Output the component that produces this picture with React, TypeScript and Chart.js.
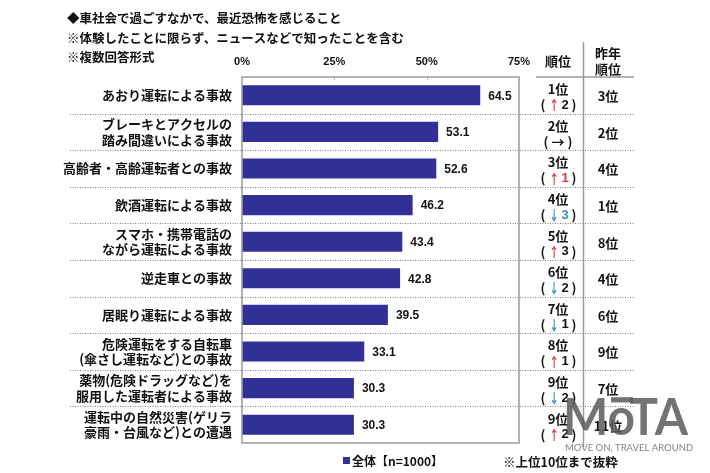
import React, { useEffect, useRef } from 'react';
import { Chart, registerables } from 'chart.js';

Chart.register(...registerables);

const titleLines = [
  '◆車社会で過ごすなかで、最近恐怖を感じること',
  '※体験したことに限らず、ニュースなどで知ったことを含む',
  '※複数回答形式',
];

const categories = [
  ['あおり運転による事故'],
  ['ブレーキとアクセルの', '踏み間違いによる事故'],
  ['高齢者・高齢運転者との事故'],
  ['飲酒運転による事故'],
  ['スマホ・携帯電話の', 'ながら運転による事故'],
  ['逆走車との事故'],
  ['居眠り運転による事故'],
  ['危険運転をする自転車', '(傘さし運転など)との事故'],
  ['薬物(危険ドラッグなど)を', '服用した運転者による事故'],
  ['運転中の自然災害(ゲリラ', '豪雨・台風など)との遭遇'],
];

const values = [64.5, 53.1, 52.6, 46.2, 43.4, 42.8, 39.5, 33.1, 30.3, 30.3];

const ranks = ['1位', '2位', '3位', '4位', '5位', '6位', '7位', '8位', '9位', '9位'];
const changeDir = ['up', 'flat', 'up', 'down', 'up', 'down', 'down', 'up', 'down', 'up'];
const changeAmt = ['2', '', '1', '3', '3', '2', '1', '1', '2', '2'];
const changeNumColored = [false, false, true, true, false, false, false, false, false, false];
const prevRanks = ['3位', '2位', '4位', '1位', '8位', '4位', '6位', '9位', '7位', '11位'];

const xTickValues = [0, 25, 50, 75];
const legendLabel = '全体【n=1000】';
const footnote = '※上位10位まで抜粋';
const rankHeader = '順位';
const prevHeader = ['昨年', '順位'];

const JP = '"Noto Sans CJK JP", "Noto Sans", sans-serif';
const NUM = '"Liberation Sans", Arial, sans-serif';
const BAR = '#303096';
const TEXT = '#111111';
const RED = '#d8343c';
const BLUE = '#3b8cc2';

export default function App() {
  const ref = useRef<HTMLCanvasElement>(null);

  useEffect(() => {
    const canvas = ref.current;
    if (!canvas) return;

    const overlay = {
      id: 'overlay',
      afterDraw(chart: any) {
        const ctx = chart.ctx as CanvasRenderingContext2D;
        const { left, right, top, bottom } = chart.chartArea;
        const ys = chart.scales.y;
        const meta = chart.getDatasetMeta(0);
        ctx.save();

        // plot border
        ctx.strokeStyle = '#9a9a9a';
        ctx.lineWidth = 1.5;
        ctx.strokeRect(left, top, right - left, bottom - top);

        // small top ticks at 25 / 50
        const xs = chart.scales.x;
        ctx.lineWidth = 1;
        ctx.strokeStyle = '#b0b0b0';
        [25, 50].forEach((v) => {
          const x = Math.round(xs.getPixelForValue(v)) + 0.5;
          ctx.beginPath();
          ctx.moveTo(x, top);
          ctx.lineTo(x, top + 3);
          ctx.stroke();
        });

        // dotted separators
        ctx.setLineDash([1, 1.5]);
        ctx.strokeStyle = '#808080';
        ctx.lineWidth = 1;
        for (let i = 0; i < values.length - 1; i++) {
          const y = Math.round((ys.getPixelForValue(i) + ys.getPixelForValue(i + 1)) / 2) + 0.5;
          ctx.beginPath();
          ctx.moveTo(70, y);
          ctx.lineTo(635, y);
          ctx.stroke();
        }
        ctx.setLineDash([]);

        // table lines
        ctx.strokeStyle = '#9a9a9a';
        ctx.lineWidth = 1.5;
        ctx.beginPath();
        ctx.moveTo(583.5, 42);
        ctx.lineTo(583.5, bottom + 4);
        ctx.stroke();
        ctx.beginPath();
        ctx.moveTo(536, top);
        ctx.lineTo(634, top);
        ctx.stroke();

        // title
        ctx.fillStyle = TEXT;
        ctx.textAlign = 'left';
        ctx.textBaseline = 'middle';
        ctx.font = `bold 12.5px ${JP}`;
        const titleY = [18, 38, 57];
        titleLines.forEach((t, i) => ctx.fillText(t, 67, titleY[i]));

        // value labels
        ctx.font = `bold 12px ${NUM}`;
        meta.data.forEach((bar: any, i: number) => {
          ctx.fillText(String(values[i].toFixed(1)), bar.x + 8, bar.y + 1);
        });

        // headers
        ctx.textAlign = 'center';
        ctx.font = `bold 13px ${JP}`;
        ctx.fillText(rankHeader, 558, 61);
        ctx.fillText(prevHeader[0], 608, 53);
        ctx.fillText(prevHeader[1], 608, 69);

        // rank columns
        const rankX = 558;
        for (let i = 0; i < values.length; i++) {
          const yc = ys.getPixelForValue(i);
          ctx.textAlign = 'center';
          ctx.fillStyle = TEXT;
          ctx.font = `bold 13px ${JP}`;
          ctx.fillText(ranks[i], rankX, yc - 6);
          ctx.fillText(prevRanks[i], 608, yc + 1);

          const dir = changeDir[i];
          const ly = yc + 10;
          ctx.font = `bold 13px ${JP}`;
          if (dir === 'flat') {
            ctx.fillStyle = TEXT;
            ctx.fillText('(', rankX - 12, ly);
            ctx.fillText('→', rankX, ly);
            ctx.fillText(')', rankX + 12, ly);
          } else {
            const aColor = dir === 'up' ? RED : BLUE;
            ctx.fillStyle = TEXT;
            ctx.fillText('(', rankX - 15, ly);
            ctx.fillText(')', rankX + 16, ly);
            ctx.fillStyle = aColor;
            ctx.save();
            ctx.translate(rankX - 4, ly);
            ctx.scale(0.75, 1.05);
            ctx.fillText(dir === 'up' ? '↑' : '↓', 0, 0);
            ctx.restore();
            ctx.fillStyle = changeNumColored[i] ? aColor : TEXT;
            ctx.font = `bold 13px ${NUM}`;
            ctx.fillText(changeAmt[i], rankX + 7, ly);
          }
        }

        // legend
        ctx.fillStyle = BAR;
        ctx.fillRect(343, 457, 7, 7);
        ctx.fillStyle = TEXT;
        ctx.textAlign = 'left';
        ctx.font = `bold 12px ${JP}`;
        ctx.fillText(legendLabel, 352, 461);

        // footnote
        ctx.font = `bold 12.5px ${JP}`;
        ctx.fillText(footnote, 503, 462);

        // watermark
        ctx.fillStyle = 'rgba(90,90,90,0.85)';
        ctx.font = `bold 50px Lato, "DejaVu Sans", sans-serif`;
        ctx.textBaseline = 'alphabetic';
        const wm = 'MoTA';
        const wmW = ctx.measureText(wm).width;
        const sx = 125 / wmW;
        ctx.save();
        ctx.translate(563, 435);
        ctx.scale(sx, 1.05);
        ctx.fillText(wm, 0, 0);
        const mW = ctx.measureText('M').width;
        const oW = ctx.measureText('o').width;
        ctx.fillRect(mW + oW * 0.1, -36, oW * 0.8, 5);
        ctx.restore();
        ctx.fillStyle = 'rgba(110,110,110,0.85)';
        ctx.font = `9.5px Lato, "DejaVu Sans", sans-serif`;
        ctx.textBaseline = 'middle';
        ctx.fillText('MOVE ON, TRAVEL AROUND', 565, 448);

        ctx.restore();
      },
    };

    const chart = new Chart(canvas, {
      type: 'bar',
      data: {
        labels: categories as any,
        datasets: [
          {
            label: legendLabel,
            data: values,
            backgroundColor: BAR,
            borderWidth: 0,
            barPercentage: 0.55,
            categoryPercentage: 1,
          },
        ],
      },
      options: {
        indexAxis: 'y',
        responsive: false,
        animation: false,
        layout: { padding: { left: 0, right: 191, top: 50, bottom: 30 } },
        plugins: {
          legend: { display: false },
          tooltip: { enabled: false },
        },
        scales: {
          x: {
            position: 'top',
            min: 0,
            max: 75,
            afterBuildTicks: (s: any) => {
              s.ticks = xTickValues.map((v) => ({ value: v }));
            },
            ticks: {
              callback: (v: any) => v + '%',
              font: { family: NUM, size: 11, weight: 'bold' },
              color: TEXT,
              padding: 8,
              maxRotation: 0,
            },
            grid: { display: false, drawTicks: false },
            border: { display: false },
            afterFit: (s: any) => {
              s.height = 27;
            },
          },
          y: {
            ticks: {
              font: { family: JP, size: 13, weight: 'bold', lineHeight: 1.2 },
              color: TEXT,
              padding: 10,
              autoSkip: false,
            },
            grid: { display: false, drawTicks: false },
            border: { display: false },
            afterFit: (s: any) => {
              s.width = 242;
            },
          },
        },
      },
      plugins: [overlay],
    } as any);

    return () => chart.destroy();
  }, []);

  return (
    <div style={{ position: 'fixed', left: 0, top: 0, width: 710, height: 473, background: '#fff' }}>
      <canvas ref={ref} width={710} height={473} style={{ display: 'block' }} />
    </div>
  );
}
